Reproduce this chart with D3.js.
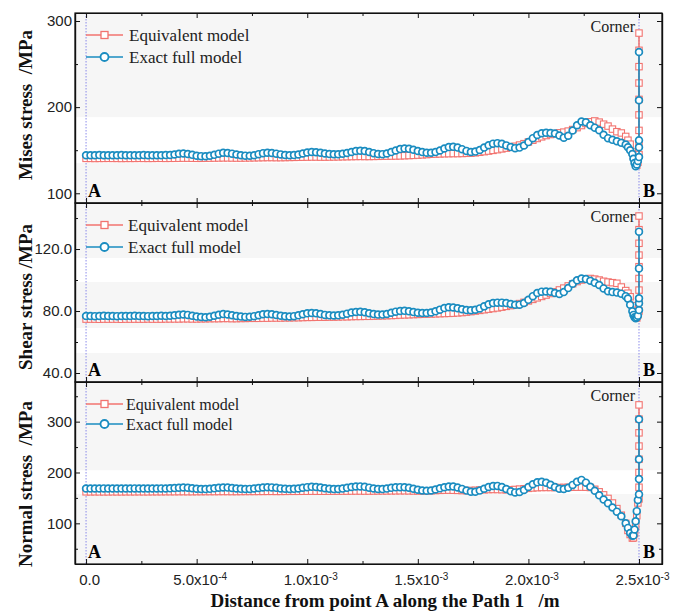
<!DOCTYPE html>
<html>
<head>
<meta charset="utf-8">
<script src="https://cdn.jsdelivr.net/npm/d3@7"></script>
<style>
  body { margin: 0; background: #fff; }
  text { white-space: pre; }
</style>
</head>
<body>
<svg id="chart" width="686" height="615"></svg>
<script>
// distance along Path 1, in 1e-3 m (mesh nodes)
const pathDist = [
  0, 0.02, 0.04, 0.06, 0.08, 0.1, 0.12, 0.14, 0.16, 0.18,
  0.2, 0.22, 0.24, 0.26, 0.28, 0.3, 0.32, 0.34, 0.36, 0.38,
  0.4, 0.42, 0.44, 0.46, 0.48, 0.5, 0.52, 0.54, 0.56, 0.58,
  0.6, 0.62, 0.64, 0.66, 0.68, 0.7, 0.72, 0.74, 0.76, 0.78,
  0.8, 0.82, 0.84, 0.86, 0.88, 0.9, 0.92, 0.94, 0.96, 0.98,
  1.0, 1.02, 1.04, 1.06, 1.08, 1.1, 1.12, 1.14, 1.16, 1.18,
  1.2, 1.22, 1.24, 1.26, 1.28, 1.3, 1.32, 1.34, 1.36, 1.38,
  1.4, 1.42, 1.44, 1.46, 1.48, 1.5, 1.52, 1.54, 1.56, 1.58,
  1.6, 1.62, 1.64, 1.66, 1.68, 1.7, 1.72, 1.74, 1.76, 1.78,
  1.8, 1.82, 1.84, 1.86, 1.88, 1.9, 1.92, 1.94, 1.96, 1.98,
  2.0, 2.02, 2.04, 2.06, 2.08, 2.1, 2.12, 2.14, 2.16, 2.18,
  2.2, 2.22, 2.24, 2.26, 2.28, 2.3, 2.32, 2.34, 2.36, 2.38,
  2.4, 2.42, 2.44,
  2.45, 2.46, 2.47, 2.475, 2.48, 2.485, 2.49, 2.495
];
const cornerDist = 2.5;

// Mises stress (MPa)
const misesEquiv = [
  140.5,140.5,140.4,140.5,140.5,140.6,140.5,140.5,140.4,140.5,
  140.5,140.5,140.6,140.5,140.5,140.5,140.6,140.6,140.5,140.6,
  140.6,140.7,140.8,140.8,140.7,140.6,140.6,140.7,140.8,140.9,
  141.0,141.1,141.1,141.0,140.9,140.9,141.0,141.1,141.2,141.3,
  141.4,141.5,141.5,141.4,141.4,141.5,141.6,141.7,141.8,141.9,
  142.0,142.1,142.1,142.0,142.0,142.1,142.2,142.3,142.4,142.5,
  142.6,142.7,142.8,142.7,142.7,142.8,142.9,143.0,143.1,143.2,
  143.3,143.4,143.6,143.8,144.0,144.3,144.6,144.9,145.3,145.5,
  145.7,145.9,146.0,146.1,146.1,146.2,146.4,146.6,147.0,147.6,
  148.3,149.0,149.8,150.6,151.5,152.4,153.4,154.6,156.0,157.6,
  159.6,161.6,163.6,165.5,167.0,168.2,169.2,170.2,171.0,172.2,
  174.0,176.2,178.6,181.0,183.0,184.0,182.6,180.2,178.0,174.5,
  171.5,170.0,166.0,
  161.6,157.0,148.0,143.0,138.0,133.5,132.6,136.0
];
const misesExact = [
  144.2,144.1,144.2,144.3,144.2,144.1,144.2,144.2,144.3,144.2,
  144.1,144.2,144.2,144.3,144.2,144.1,144.2,144.2,144.3,144.4,
  145.0,145.8,146.2,145.6,144.6,143.6,143.1,143.0,143.5,144.6,
  146.0,147.0,146.7,146.0,145.0,144.2,143.7,143.6,144.2,145.4,
  146.6,147.0,146.7,146.0,145.1,144.5,144.2,144.3,145.0,146.2,
  147.4,148.0,147.7,147.0,146.2,145.6,145.3,145.3,145.8,146.8,
  148.0,149.0,149.4,149.0,147.9,146.6,145.6,145.4,146.2,147.8,
  149.7,151.3,152.0,151.6,150.5,149.0,147.8,147.1,147.0,147.8,
  149.6,152.0,153.6,153.9,153.0,151.2,149.2,148.0,148.4,150.3,
  153.0,155.8,157.6,158.2,157.4,155.6,153.6,152.4,153.0,155.4,
  159.4,164.0,167.6,169.6,170.2,170.0,169.4,167.0,164.6,166.8,
  172.8,179.0,183.4,182.4,179.0,176.2,173.2,168.0,164.0,162.0,
  160.4,158.6,156.6,
  153.5,150.0,145.5,140.0,135.0,131.4,133.5,137.5
];
const misesEquivCorner = [145, 158, 173, 191, 209, 228, 247, 266, 286];
const misesExactCorner = [142, 153.5, 161.6, 208, 264];

// Shear stress (MPa)
const shearEquiv = [
  74.8,74.8,74.8,74.7,74.8,74.8,74.8,74.8,74.7,74.8,
  74.8,74.8,74.8,74.8,74.9,74.8,74.8,74.8,74.9,74.9,
  74.9,74.9,75.0,75.0,74.9,74.9,75.0,75.0,75.1,75.1,
  75.1,75.2,75.2,75.1,75.1,75.2,75.2,75.3,75.3,75.3,
  75.4,75.4,75.5,75.5,75.5,75.6,75.6,75.7,75.7,75.8,
  75.9,75.9,76.0,76.0,76.0,76.1,76.1,76.2,76.3,76.3,
  76.4,76.5,76.5,76.6,76.6,76.7,76.8,76.9,77.0,77.1,
  77.2,77.4,77.5,77.6,77.7,77.8,77.9,78.0,78.1,78.2,
  78.3,78.4,78.5,78.6,78.8,79.0,79.3,79.6,80.0,80.4,
  80.8,81.2,81.6,82.0,82.5,83.0,83.5,84.0,84.8,85.6,
  86.5,87.5,88.5,89.4,90.3,91.3,92.4,93.6,94.8,96.2,
  97.6,99.0,100.0,100.6,101.0,100.6,100.0,99.2,98.7,98.3,
  97.9,95.5,93.2,
  91.5,89.2,83.5,80.5,78.0,76.3,75.5,77.5
];
const shearExact = [
  76.8,76.8,76.7,76.8,76.9,76.8,76.8,76.7,76.8,76.8,
  76.8,76.9,76.8,76.8,76.7,76.8,76.8,76.9,76.8,76.9,
  77.2,77.6,77.8,77.5,76.9,76.4,76.1,76.0,76.3,76.9,
  77.6,78.0,77.8,77.3,76.8,76.4,76.2,76.3,76.7,77.3,
  77.9,78.1,77.9,77.4,76.9,76.6,76.5,76.7,77.2,77.9,
  78.5,78.7,78.5,78.0,77.5,77.2,77.1,77.2,77.6,78.3,
  79.0,79.4,79.5,79.2,78.6,78.0,77.7,77.7,78.1,78.9,
  79.6,80.0,80.1,79.8,79.3,78.9,78.7,78.7,79.0,79.8,
  80.9,81.9,82.4,82.3,81.8,81.1,80.6,80.5,80.8,81.7,
  83.0,84.3,85.1,85.4,85.4,85.1,84.5,84.0,84.1,85.2,
  87.2,89.6,91.6,92.5,92.6,92.4,91.6,91.0,92.2,94.8,
  97.6,99.8,101.0,100.6,99.5,98.2,96.8,94.6,92.8,92.2,
  91.9,91.2,89.6,
  88.0,84.0,79.8,77.5,76.0,75.3,75.8,77.0
];
const shearEquivCorner = [80.0, 86.0, 93.5, 101.0, 108.6, 116.1, 123.7, 132.5, 141.3];
const shearExactCorner = [80.6, 85.0, 88.2, 107.5, 131.2];

// Normal stress (MPa)
const normalEquiv = [
  162.0,162.0,162.1,162.0,162.0,162.0,162.1,162.0,162.0,162.1,
  162.1,162.1,162.2,162.1,162.1,162.2,162.2,162.2,162.3,162.3,
  162.3,162.4,162.4,162.3,162.3,162.4,162.4,162.5,162.5,162.5,
  162.6,162.6,162.6,162.5,162.5,162.6,162.7,162.7,162.7,162.8,
  162.8,162.9,162.9,162.8,162.8,162.9,163.0,163.0,163.0,163.1,
  163.1,163.2,163.2,163.1,163.1,163.2,163.3,163.3,163.4,163.4,
  163.5,163.6,163.6,163.5,163.5,163.6,163.7,163.8,163.8,163.9,
  164.0,164.1,164.1,163.9,163.7,163.6,163.6,163.8,164.1,164.5,
  164.9,165.2,165.3,165.1,164.8,164.5,164.4,164.6,165.0,165.5,
  166.0,166.4,166.6,166.5,166.2,166.0,166.1,166.6,167.3,168.0,
  168.8,169.6,170.2,170.5,170.6,170.5,170.4,170.4,170.6,170.8,
  171.0,171.1,171.2,171.1,170.5,167.0,162.0,156.0,149.0,140.0,
  129.0,116.0,100.0,
  86.0,78.0,71.0,71.5,80.0,95.0,115.0,140.0
];
const normalExact = [
  168.6,168.6,168.5,168.6,168.7,168.6,168.6,168.5,168.6,168.6,
  168.6,168.7,168.6,168.6,168.5,168.6,168.6,168.7,168.6,168.8,
  169.3,170.0,170.4,170.0,169.0,168.0,167.4,167.3,167.8,168.8,
  169.9,170.5,170.3,169.5,168.5,167.8,167.5,167.7,168.4,169.5,
  170.5,171.0,170.7,169.8,168.7,167.9,167.6,167.8,168.6,169.9,
  171.2,171.8,171.5,170.4,169.0,167.9,167.3,167.4,168.3,169.8,
  171.4,172.4,172.6,171.8,170.2,168.5,167.4,167.3,168.3,169.8,
  170.8,171.2,171.0,169.9,168.0,166.0,164.6,164.0,164.6,166.4,
  168.8,171.0,172.4,172.3,170.6,167.7,164.4,162.2,162.2,164.4,
  168.0,171.4,173.4,173.6,171.6,167.6,163.2,160.8,161.6,165.6,
  171.4,177.0,180.6,181.6,179.8,176.0,171.4,168.0,167.4,170.0,
  175.6,181.6,185.4,180.0,172.0,164.0,155.0,147.0,139.5,131.0,
  123.0,114.0,100.0,
  91.0,81.0,75.5,76.0,88.0,104.0,124.0,146.0
];
const normalEquivCorner = [148, 171, 200, 226, 252, 278, 305, 333];
const normalExactCorner = [157, 187, 226, 304.5];

// axis ticks and labels
const xMajor = [0, 0.5e-3, 1.0e-3, 1.5e-3, 2.0e-3, 2.5e-3];
const xMinor = [0.25e-3, 0.75e-3, 1.25e-3, 1.75e-3, 2.25e-3];
const xTickLabels = [["0.0", ""], ["5.0x10", "-4"], ["1.0x10", "-3"], ["1.5x10", "-3"], ["2.0x10", "-3"], ["2.5x10", "-3"]];
const misesMajor = [100, 200, 300], misesMinor = [150, 250];
const shearMajor = [40, 80, 120], shearMinor = [60, 100, 140];
const normalMajor = [100, 200, 300], normalMinor = [50, 150, 250, 350];
// white stripes in the plot background (MPa ranges)
const misesWhite = [[135, 188.4]];
const shearWhite = [[98.7, 114.2], [52.9, 69]];
const normalWhite = [[157.5, 204.5]];

const seriesNames = ["Equivalent model", "Exact full model"];
const xTitle = "Distance from point A along the Path 1   /m";

const RED = "#f2736f", BLUE = "#1a8cc0";
const serif = "'Liberation Serif', 'Times New Roman', serif";
const sans = "'Liberation Sans', Arial, sans-serif";

const svg = d3.select("#chart");
const left = 75, right = 662;
const x = d3.scaleLinear().domain([-0.05e-3, 2.604e-3]).range([left, right]);

const panels = [
  { title: "Mises stress  /MPa", top: 13, bottom: 203, domain: [88.7, 309.3], major: misesMajor, minor: misesMinor,
    fmt: d3.format("d"), white: misesWhite, equiv: misesEquiv, exact: misesExact,
    equivCorner: misesEquivCorner, exactCorner: misesExactCorner, titleY: 105,
    legend: [35, 57], legendFont: 17, legendX: 129 },
  { title: "Shear stress /MPa", top: 203, bottom: 382, domain: [34.2, 149.7], major: shearMajor, minor: shearMinor,
    fmt: d3.format(".1f"), white: shearWhite, equiv: shearEquiv, exact: shearExact,
    equivCorner: shearEquivCorner, exactCorner: shearExactCorner, titleY: 297,
    legend: [225, 247], legendFont: 17, legendX: 128 },
  { title: "Normal stress  /MPa", top: 382, bottom: 564, domain: [20, 378], major: normalMajor, minor: normalMinor,
    fmt: d3.format("d"), white: normalWhite, equiv: normalEquiv, exact: normalExact,
    equivCorner: normalEquivCorner, exactCorner: normalExactCorner, titleY: 484,
    legend: [404, 424], legendFont: 16, legendX: 126 }
];

function styleAxis(g) {
  g.select(".domain").attr("stroke", "#111").attr("stroke-width", 1.2);
  g.selectAll(".tick line").attr("stroke", "#111").attr("stroke-width", 1);
  g.selectAll("text").attr("font-family", sans).attr("font-size", "15px").attr("fill", "#222");
}

panels.forEach((p, pi) => {
  const y = d3.scaleLinear().domain(p.domain).range([p.bottom, p.top]);
  const g = svg.append("g");

  // background
  g.append("rect").attr("x", left).attr("y", p.top).attr("width", right - left)
    .attr("height", p.bottom - p.top).attr("fill", "#f6f6f6");
  g.selectAll("rect.band").data(p.white).enter().append("rect")
    .attr("x", left).attr("width", right - left)
    .attr("y", d => y(d[1])).attr("height", d => y(d[0]) - y(d[1]))
    .attr("fill", "#fff");

  // points A and B
  [0, cornerDist * 1e-3].forEach(v => {
    g.append("line").attr("x1", x(v)).attr("x2", x(v)).attr("y1", p.top).attr("y2", p.bottom)
      .attr("stroke", "#6f6fe6").attr("stroke-width", 0.8).attr("stroke-dasharray", "1.5,1.5");
  });

  const toPts = (vals, corner) => {
    const pts = pathDist.map((d, i) => [d * 1e-3, vals[i]]);
    corner.forEach(v => pts.push([cornerDist * 1e-3, v]));
    return pts;
  };
  const line = d3.line().x(d => x(d[0])).y(d => y(d[1]));

  const eq = toPts(p.equiv, p.equivCorner);
  g.append("path").datum(eq).attr("d", line).attr("fill", "none")
    .attr("stroke", RED).attr("stroke-width", 1.5);
  g.selectAll("rect.sq").data(eq).enter().append("rect")
    .attr("x", d => x(d[0]) - 3.2).attr("y", d => y(d[1]) - 3.2)
    .attr("width", 6.4).attr("height", 6.4)
    .attr("fill", "#fff").attr("stroke", RED).attr("stroke-width", 1.1);

  const ex = toPts(p.exact, p.exactCorner);
  g.append("path").datum(ex).attr("d", line).attr("fill", "none")
    .attr("stroke", BLUE).attr("stroke-width", 1.6);
  g.selectAll("circle.ex").data(ex).enter().append("circle")
    .attr("cx", d => x(d[0])).attr("cy", d => y(d[1])).attr("r", 3.4)
    .attr("fill", "#fff").attr("stroke", BLUE).attr("stroke-width", 1.7);

  // legend
  seriesNames.forEach((name, k) => {
    const ly = p.legend[k], col = k === 0 ? RED : BLUE;
    g.append("line").attr("x1", 86).attr("x2", 123).attr("y1", ly).attr("y2", ly)
      .attr("stroke", col).attr("stroke-width", 1.6);
    if (k === 0) {
      g.append("rect").attr("x", 101).attr("y", ly - 3.5).attr("width", 7).attr("height", 7)
        .attr("fill", "#fff").attr("stroke", col).attr("stroke-width", 1.3);
    } else {
      g.append("circle").attr("cx", 104.5).attr("cy", ly).attr("r", 4)
        .attr("fill", "#fff").attr("stroke", col).attr("stroke-width", 1.8);
    }
    g.append("text").attr("x", p.legendX).attr("y", ly).attr("dy", "0.35em")
      .attr("font-family", serif).attr("font-size", p.legendFont + "px").attr("fill", "#222")
      .text(name);
  });

  g.append("text").attr("x", 88).attr("y", p.bottom - 6)
    .attr("font-family", serif).attr("font-weight", "bold").attr("font-size", "18px").text("A");
  g.append("text").attr("x", 643).attr("y", p.bottom - 6)
    .attr("font-family", serif).attr("font-weight", "bold").attr("font-size", "18px").text("B");
  g.append("text").attr("x", 635).attr("y", p.top + 19).attr("text-anchor", "end")
    .attr("font-family", serif).attr("font-size", "16px").attr("fill", "#222").text("Corner");

  // axes, ticks pointing inward
  const yL = g.append("g").attr("transform", `translate(${left},0)`)
    .call(d3.axisLeft(y).tickValues(p.major).tickFormat(p.fmt).tickSize(-5).tickSizeOuter(0).tickPadding(3));
  styleAxis(yL);
  const yLm = g.append("g").attr("transform", `translate(${left},0)`)
    .call(d3.axisLeft(y).tickValues(p.minor).tickFormat("").tickSize(-3).tickSizeOuter(0));
  styleAxis(yLm);
  [p.major, p.minor].forEach((tv, k) => {
    const a = g.append("g").attr("transform", `translate(${right},0)`)
      .call(d3.axisRight(y).tickValues(tv).tickFormat("").tickSize(k ? -3 : -5).tickSizeOuter(0));
    styleAxis(a);
  });
  [p.top, p.bottom].forEach(yy => {
    [xMajor, xMinor].forEach((tv, k) => {
      const ax = yy === p.top ? d3.axisTop(x) : d3.axisBottom(x);
      const a = g.append("g").attr("transform", `translate(0,${yy})`)
        .call(ax.tickValues(tv).tickFormat("").tickSize(k ? -3 : -5).tickSizeOuter(0).tickPadding(10));
      styleAxis(a);
      if (pi === panels.length - 1 && yy === p.bottom && k === 0) {
        a.selectAll(".tick text").attr("x", 3).each(function(d, i) {
          const t = d3.select(this);
          t.append("tspan").text(xTickLabels[i][0]);
          if (xTickLabels[i][1]) {
            t.append("tspan").attr("dy", "-0.5em").attr("font-size", "10px").text(xTickLabels[i][1]);
          }
        });
      }
    });
  });

  g.append("rect").attr("x", left).attr("y", p.top).attr("width", right - left)
    .attr("height", p.bottom - p.top).attr("fill", "none").attr("stroke", "#111").attr("stroke-width", 1.2);

  g.append("text").attr("transform", `translate(32,${p.titleY}) rotate(-90)`)
    .attr("text-anchor", "middle").attr("font-family", serif).attr("font-weight", "bold")
    .attr("font-size", "19px").attr("fill", "#111").text(p.title);
});

svg.append("text").attr("x", 385).attr("y", 607).attr("text-anchor", "middle")
  .attr("font-family", serif).attr("font-weight", "bold").attr("font-size", "19px")
  .attr("fill", "#111").text(xTitle);
</script>
</body>
</html>
